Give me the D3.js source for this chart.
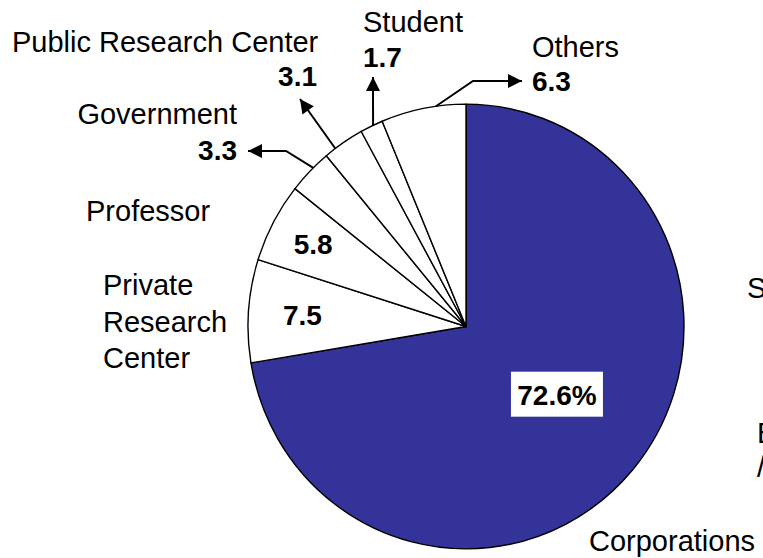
<!DOCTYPE html>
<html>
<head>
<meta charset="utf-8">
<script src="https://cdn.jsdelivr.net/npm/d3@7"></script>
<style>
  body { margin: 0; background: #fff; }
  svg { display: block; font-family: "Liberation Sans", Arial, sans-serif; }
</style>
</head>
<body>
<script>
// slice order: clockwise from 12 o'clock
var categories = ["Corporations", "Private Research Center", "Professor", "Government",
                  "Public Research Center", "Student", "Others"];
var shares = [72.6, 7.5, 5.8, 3.3, 3.1, 1.7, 6.3];
var valueLabels = ["72.6%", "7.5", "5.8", "3.3", "3.1", "1.7", "6.3"];
// partly visible labels cut by the right edge
var clippedLabels = ["S", "E", "/"];

var width = 763, height = 558;
var cx = 466, cy = 326.5, radius = 218, squash = 1.02;
var blue = "#333399";

var svg = d3.select("body").append("svg")
    .attr("width", width)
    .attr("height", height);

svg.append("defs").append("marker")
    .attr("id", "head")
    .attr("viewBox", "0 0 10 10")
    .attr("refX", 10)
    .attr("refY", 5)
    .attr("markerWidth", 16)
    .attr("markerHeight", 14)
    .attr("markerUnits", "userSpaceOnUse")
    .attr("orient", "auto")
    .append("path")
    .attr("d", "M0,0L10,5L0,10Z")
    .attr("fill", "#000");

var pie = d3.pie().sort(null).value(function (d) { return d; });
var slices = pie(shares);

var arc = d3.arc().innerRadius(0).outerRadius(radius);

var g = svg.append("g")
    .attr("transform", "translate(" + cx + "," + cy + ") scale(1," + squash + ")");

g.selectAll("path")
    .data(slices)
    .enter()
    .append("path")
    .attr("d", arc)
    .attr("fill", function (d, i) { return i === 0 ? blue : "#fff"; })
    .attr("stroke", "#000")
    .attr("stroke-width", 1.4)
    .attr("stroke-linejoin", "round");

// point on the rim, t = fraction through the slice
function rim(i, t) {
    var s = slices[i];
    var a = s.startAngle + (s.endAngle - s.startAngle) * t;
    return [cx + radius * Math.sin(a), cy - radius * Math.cos(a) * squash];
}

function inside(i, r) {
    var c = d3.arc().innerRadius(r).outerRadius(r).centroid(slices[i]);
    return [cx + c[0], cy + c[1] * squash];
}

// leader arrows for the small slices
var leaders = [
    { i: 3, t: 0.61, pts: [[286, 151], [248, 151]] },
    { i: 4, t: 0.27, pts: [[300, 99]] },
    { i: 5, t: 0.57, pts: [[373, 77]] },
    { i: 6, t: 0.65, pts: [[473, 81], [522, 81]] }
];

svg.selectAll("path.leader")
    .data(leaders)
    .enter()
    .append("path")
    .attr("class", "leader")
    .attr("d", function (d) { return d3.line()([rim(d.i, d.t)].concat(d.pts)); })
    .attr("fill", "none")
    .attr("stroke", "#000")
    .attr("stroke-width", 2)
    .attr("marker-end", "url(#head)");

// category names
var names = [
    { i: 4, x: 12, y: 52, anchor: "start", lines: ["Public Research Center"] },
    { i: 3, x: 237, y: 124, anchor: "end", lines: ["Government"] },
    { i: 5, x: 363, y: 32, anchor: "start", lines: ["Student"] },
    { i: 6, x: 532, y: 57, anchor: "start", lines: ["Others"] },
    { i: 2, x: 86, y: 221, anchor: "start", lines: ["Professor"] },
    { i: 1, x: 103, y: 295, anchor: "start", lines: ["Private", "Research", "Center"] },
    { i: 0, x: 589, y: 551, anchor: "start", lines: ["Corporations"] }
];

var nameText = svg.selectAll("text.name")
    .data(names)
    .enter()
    .append("text")
    .attr("class", "name")
    .attr("x", function (d) { return d.x; })
    .attr("y", function (d) { return d.y; })
    .attr("text-anchor", function (d) { return d.anchor; })
    .attr("font-size", "29px")
    .attr("fill", "#000");

nameText.each(function (d) {
    var t = d3.select(this);
    if (d.i === 1) {
        t.selectAll("tspan")
            .data(d.lines)
            .enter()
            .append("tspan")
            .attr("x", d.x)
            .attr("dy", function (l, k) { return k === 0 ? 0 : 36.5; })
            .text(function (l) { return l; });
    } else {
        t.text(d.lines[0]);
    }
});

// values outside the pie
var outside = [
    { i: 4, x: 317, y: 86, anchor: "end" },
    { i: 3, x: 237, y: 160, anchor: "end" },
    { i: 5, x: 363, y: 67, anchor: "start" },
    { i: 6, x: 532, y: 91, anchor: "start" }
];

svg.selectAll("text.outval")
    .data(outside)
    .enter()
    .append("text")
    .attr("class", "outval")
    .attr("x", function (d) { return d.x; })
    .attr("y", function (d) { return d.y; })
    .attr("text-anchor", function (d) { return d.anchor; })
    .attr("font-size", "28px")
    .attr("font-weight", "bold")
    .text(function (d) { return valueLabels[d.i]; });

// values inside the pie
var inner = [
    { i: 1, r: 164 },
    { i: 2, r: 173 }
];

svg.selectAll("text.inval")
    .data(inner)
    .enter()
    .append("text")
    .attr("class", "inval")
    .attr("x", function (d) { return inside(d.i, d.r)[0]; })
    .attr("y", function (d) { return inside(d.i, d.r)[1]; })
    .attr("dy", "0.35em")
    .attr("text-anchor", "middle")
    .attr("font-size", "28px")
    .attr("font-weight", "bold")
    .text(function (d) { return valueLabels[d.i]; });

// big share, on a white box
var bigPos = inside(0, 114);
var bx = bigPos[0] + 4, by = bigPos[1] + 3; // baseline
svg.append("rect")
    .attr("x", bx - 46)
    .attr("y", by - 33)
    .attr("width", 92)
    .attr("height", 45)
    .attr("fill", "#fff");

svg.append("text")
    .attr("x", bx)
    .attr("y", by)
    .attr("text-anchor", "middle")
    .attr("font-size", "28px")
    .attr("font-weight", "bold")
    .text(valueLabels[0]);

// labels of a neighbouring chart, cut by the frame
var clipped = [
    { x: 747, y: 298 },
    { x: 757, y: 443 },
    { x: 757, y: 477 }
];

svg.selectAll("text.clip")
    .data(clipped)
    .enter()
    .append("text")
    .attr("class", "clip")
    .attr("x", function (d) { return d.x; })
    .attr("y", function (d) { return d.y; })
    .attr("font-size", "29px")
    .text(function (d, i) { return clippedLabels[i]; });
</script>
</body>
</html>
